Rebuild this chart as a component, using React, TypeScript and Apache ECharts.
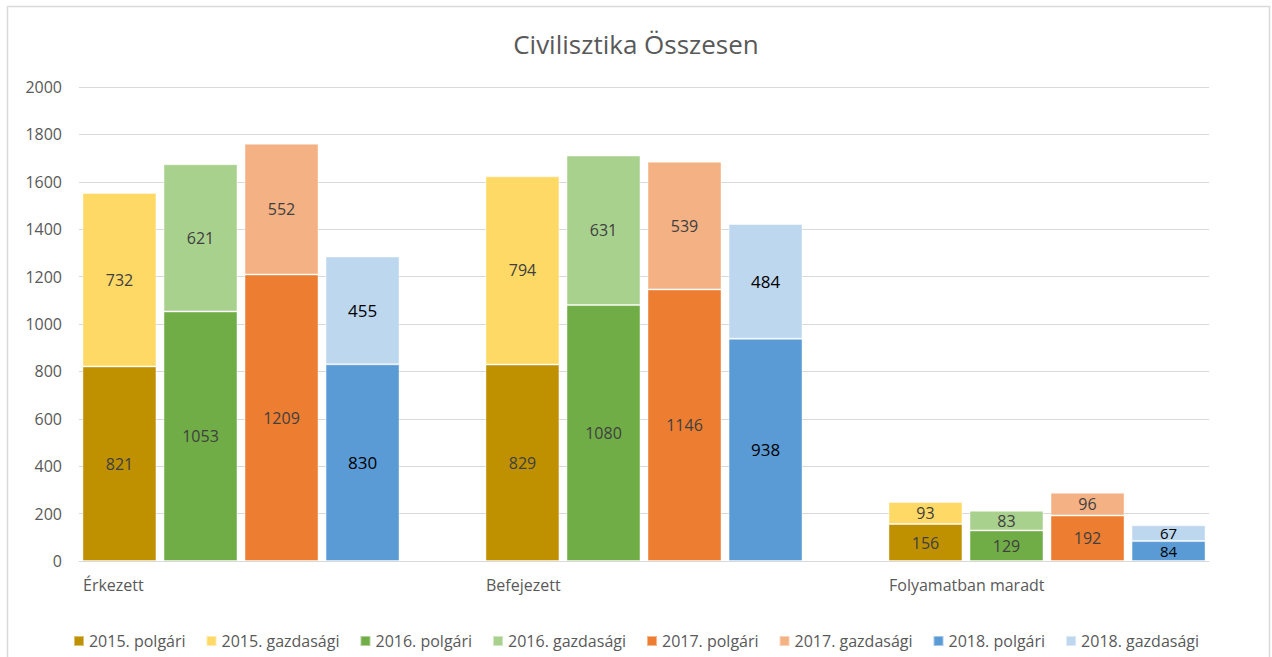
import React, { useEffect, useRef } from "react";
import * as echarts from "echarts";

const categories = ["Érkezett", "Befejezett", "Folyamatban maradt"];
const years = ["2015", "2016", "2017", "2018"];
const polgari2015 = [821, 829, 156];
const gazdasagi2015 = [732, 794, 93];
const polgari2016 = [1053, 1080, 129];
const gazdasagi2016 = [621, 631, 83];
const polgari2017 = [1209, 1146, 192];
const gazdasagi2017 = [552, 539, 96];
const polgari2018 = [830, 938, 84];
const gazdasagi2018 = [455, 484, 67];
const yTicks = { min: 0, max: 2000, interval: 200 };

const colorsP = ["#BF9000", "#70AD47", "#ED7D31", "#5B9BD5"];
const colorsG = ["#FFD966", "#A9D18E", "#F4B183", "#BDD7EE"];

const FONT = "'Open Sans', 'Noto Sans', sans-serif";

export default function App() {
  const ref = useRef<HTMLDivElement>(null);
  useEffect(() => {
    if (!ref.current) return;
    const chart = echarts.init(ref.current, null, { renderer: "svg" });
    const pData = [polgari2015, polgari2016, polgari2017, polgari2018];
    const gData = [gazdasagi2015, gazdasagi2016, gazdasagi2017, gazdasagi2018];
    const series: any[] = [];
    const wrap = (vals: number[], is2018: boolean) =>
      vals.map((v) =>
        is2018 && v < 100
          ? { value: v, label: { fontSize: 15, lineHeight: 15 } }
          : v
      );
    years.forEach((y, i) => {
      const is2018 = i === 3;
      const label = {
        show: true,
        position: "inside",
        fontFamily: FONT,
        fontSize: is2018 ? 17 : 16,
        lineHeight: is2018 ? 17 : 20,
        color: is2018 ? "#000000" : "#404040",
      };
      series.push({
        name: `${y}. polgári`,
        type: "bar",
        stack: y,
        xAxisIndex: 1,
        yAxisIndex: 1,
        barWidth: 74,
        barGap: "9.5%",
        data: wrap(pData[i], is2018),
        itemStyle: { color: colorsP[i], borderColor: "rgba(255,255,255,0.45)", borderWidth: 1 },
        label,
      });
      series.push({
        name: `${y}. gazdasági`,
        type: "bar",
        stack: y,
        xAxisIndex: 1,
        yAxisIndex: 1,
        barWidth: 74,
        barGap: "9.5%",
        data: wrap(gData[i], is2018),
        itemStyle: { color: colorsG[i], borderColor: "rgba(255,255,255,0.45)", borderWidth: 1 },
        label,
      });
    });
    const legendOrder: string[] = [];
    years.forEach((y) => {
      legendOrder.push(`${y}. polgári`);
      legendOrder.push(`${y}. gazdasági`);
    });

    chart.setOption({
      animation: false,
      backgroundColor: "#ffffff",
      title: {
        text: "Civilisztika Összesen",
        left: "center",
        top: 26,
        textStyle: { fontFamily: FONT, fontSize: 26, fontWeight: "normal", color: "#595959" },
      },
      legend: {
        data: legendOrder,
        bottom: 3,
        left: "center",
        itemWidth: 10,
        itemHeight: 10,
        itemGap: 20,
        icon: "rect",
        textStyle: { fontFamily: FONT, fontSize: 16, color: "#595959" },
      },
      grid: [
        { left: 79, top: 87, width: 1130, height: 474 },
        { left: 39.5, top: 87, width: 1209, height: 474 },
      ],
      xAxis: [
        {
          type: "category",
          gridIndex: 0,
          data: categories,
          axisLine: { show: true, lineStyle: { color: "#D9D9D9" } },
          axisTick: { show: false },
          axisLabel: { show: false },
        },
        {
          type: "category",
          gridIndex: 1,
          data: categories,
          axisLine: { show: false },
          axisTick: { show: false },
          axisLabel: {
            margin: 16,
            formatter: (v: string) => `{a|${v}}`,
            rich: {
              a: {
                width: 316,
                align: "left",
                fontFamily: FONT,
                fontSize: 16,
                color: "#595959",
              },
            },
          },
        },
      ],
      yAxis: [
        {
          type: "value",
          gridIndex: 0,
          ...yTicks,
          axisLine: { show: false },
          axisTick: { show: false },
          splitLine: { lineStyle: { color: "#D9D9D9" } },
          axisLabel: {
            margin: 17,
            fontFamily: FONT,
            fontSize: 16,
            color: "#595959",
            formatter: (v: number) => String(v),
          },
        },
        {
          type: "value",
          gridIndex: 1,
          ...yTicks,
          show: false,
          splitLine: { show: false },
        },
      ],
      graphic: [
        {
          type: "rect",
          shape: { x: 7.5, y: 6.5, width: 1262, height: 660 },
          style: { fill: "none", stroke: "#D9D9D9", lineWidth: 1.5 },
          z: 100,
        },
      ],
      series,
    });
    return () => chart.dispose();
  }, []);
  return (
    <div
      ref={ref}
      style={{ position: "fixed", left: 0, top: 0, width: 1272, height: 657 }}
    />
  );
}
